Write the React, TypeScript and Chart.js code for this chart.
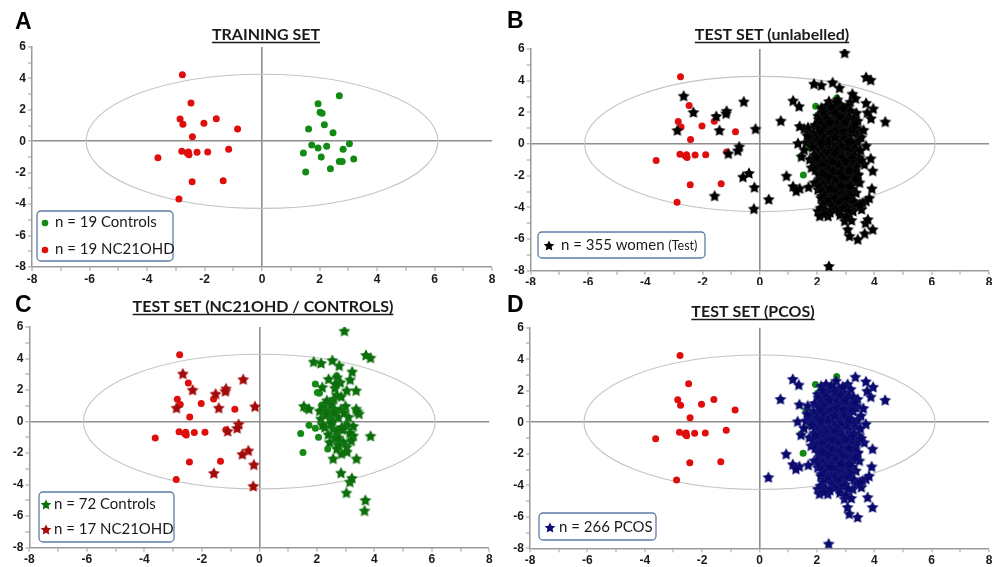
import React, { useEffect, useRef } from 'react';
import { Chart, registerables } from 'chart.js';
Chart.register(...registerables);

// ---------- DATA ----------
const X_MIN = -8, X_MAX = 8, Y_MIN = -8, Y_MAX = 6;
const ELLIPSE_RX = 6.12, ELLIPSE_RY = 4.27;

const trainingNC21OHD: number[][] = [
  [-2.77, 4.24], [-2.47, 2.44], [-2.85, 1.42], [-2.75, 1.08], [-2.02, 1.14], [-1.59, 1.44],
  [-0.85, 0.78], [-2.42, 0.29], [-2.79, -0.64], [-2.56, -0.68], [-2.54, -0.85], [-2.26, -0.70],
  [-1.89, -0.68], [-1.16, -0.51], [-3.62, -1.04], [-2.43, -2.57], [-1.35, -2.51], [-2.89, -3.67],
  [-2.60, -0.75],
];

const trainingControls: number[][] = [
  [2.69, 2.90], [1.95, 2.39], [2.02, 1.84], [2.09, 1.79], [2.17, 1.06], [1.62, 0.78], [2.47, 0.55],
  [3.04, -0.15], [1.73, -0.24], [1.95, -0.43], [2.25, -0.32], [2.82, -0.51], [1.44, -0.75],
  [2.06, -1.0], [3.19, -1.13], [2.69, -1.28], [2.79, -1.28], [2.38, -1.74], [1.52, -1.96],
];

const testNC21OHD: number[][] = [
  [-2.66, 3.05], [-2.32, 2.02], [-2.88, 0.88], [-1.52, 1.77], [-1.16, 2.10], [-1.18, 1.94],
  [-0.56, 2.69], [-1.41, 0.88], [-0.15, 0.97], [-0.72, -0.15], [-0.77, -0.40], [-1.10, -0.59],
  [-0.38, -1.83], [-0.59, -2.06], [-0.19, -2.72], [-1.58, -3.26], [-0.21, -4.08],
];

const testControls: number[][] = [
  [2.96, 5.77], [3.71, 4.23], [3.87, 4.06], [1.89, 3.81], [2.15, 3.72], [2.54, 3.90], [2.78, 3.56],
  [3.23, 3.18], [3.16, 2.67], [2.41, 2.71], [2.71, 2.82], [2.82, 2.50], [2.19, 2.19], [2.63, 2.15],
  [3.04, 1.98], [3.37, 1.98], [2.59, 1.45], [2.69, 1.70], [1.55, 0.99], [1.73, 0.82], [2.23, 0.99],
  [2.34, 0.72], [2.61, 0.82], [2.83, 0.78], [3.37, 0.82], [3.47, 0.51], [3.41, 0.65], [2.14, 0.19],
  [2.46, 0.19], [2.75, 0.29], [3.04, -0.23], [3.27, -0.27], [2.57, -0.44], [2.87, -0.34],
  [2.28, -0.34], [3.87, -0.90], [3.27, -0.88], [2.63, -0.97], [2.92, -1.28], [2.75, -1.50],
  [3.04, -1.60], [2.86, -2.02], [2.57, -2.34], [3.38, -2.34], [2.84, -3.24], [3.15, -3.81],
  [3.22, -3.57], [3.03, -4.50], [3.69, -4.97], [3.66, -5.64],
  [2.30, 0.50], [2.50, 1.10], [2.70, -0.60], [2.40, -0.80], [3.10, 0.30], [2.90, -0.50],
  [2.20, -0.20], [2.60, 0.60], [3.00, 1.00], [2.45, -1.30], [2.75, -1.00], [3.15, -0.70],
  [2.35, 1.35], [2.65, 2.40], [3.20, -1.20], [2.55, 0.05], [2.85, 1.60], [2.10, 0.70],
  [3.05, -1.90], [2.70, -1.70], [2.50, -0.10], [2.95, 0.60],
];

const testPCOS: number[][] = [
  [1.16, 2.75], [1.37, 2.39], [0.73, 1.48], [3.34, 2.89], [3.71, 2.60], [3.96, 2.25], [3.88, 1.63],
  [4.38, 1.42], [1.39, 1.14], [1.68, 1.06], [1.33, 0.06], [1.45, -0.78], [0.93, -2.00], [1.16, -2.66],
  [1.39, -2.79], [1.27, -2.95], [0.31, -3.48], [1.80, -1.47], [2.03, -4.22], [2.09, -4.53],
  [2.38, -4.53], [2.78, -4.22], [3.25, -4.22], [3.77, -4.75], [3.94, -5.38], [2.96, -4.84],
  [3.07, -5.38], [3.13, -5.80], [3.42, -6.01], [2.41, -7.70], [3.71, -3.58], [3.59, -3.69],
  [3.91, -2.80], [3.94, -1.68], [3.65, -1.27], [3.71, -0.10], [3.54, 0.43], [3.36, 0.95],
  [3.42, 1.48], [2.67, 2.64], [3.07, 2.43], [2.32, 2.43], [2.49, 2.21], [2.03, 1.79], [2.09, 1.37],
  [1.62, 0.11], [1.74, -0.95], [1.91, -2.42], [2.03, -2.85], [2.15, -3.27], [2.55, -3.58],
  [2.90, -3.69], [3.13, -3.48], [3.36, -3.06], [3.48, -2.42], [3.42, -1.90],
  [2.15, 2.31], [2.42, 2.05], [2.78, 2.18], [2.95, 1.92], [3.18, 2.12], [2.27, 1.78], [2.58, 1.66],
  [2.86, 1.55], [3.12, 1.71], [2.05, 1.58], [2.38, 1.52], [2.71, 1.88], [3.28, 1.62], [2.51, 2.34],
  [2.90, 2.28], [2.22, 2.02], [3.02, 1.56], [2.64, 1.98], [2.33, 1.64], [2.80, 1.72],
  [1.92, 1.22], [2.18, 1.31], [2.44, 1.19], [2.69, 1.33], [2.93, 1.25], [3.16, 1.12], [3.38, 1.04],
  [2.06, 0.96], [2.31, 0.88], [2.57, 0.97], [2.82, 1.02], [3.05, 0.84], [3.27, 0.72], [1.88, 0.71],
  [2.13, 0.64], [2.39, 0.58], [2.62, 0.71], [2.88, 0.61], [3.11, 0.55], [2.25, 1.09], [2.50, 0.79],
  [2.74, 0.52], [2.98, 1.38], [3.22, 0.94], [1.98, 0.53], [2.44, 1.42], [2.68, 0.91], [2.92, 0.83],
  [3.33, 1.28], [2.15, 0.82],
  [1.76, 0.38], [2.01, 0.29], [2.24, 0.41], [2.47, 0.33], [2.71, 0.26], [2.95, 0.37], [3.19, 0.22],
  [3.41, 0.14], [1.86, 0.02], [2.09, -0.06], [2.33, 0.08], [2.56, -0.03], [2.80, 0.05], [3.03, -0.08],
  [3.27, 0.04], [1.95, -0.31], [2.18, -0.22], [2.41, -0.35], [2.65, -0.18], [2.89, -0.29],
  [3.12, -0.41], [3.35, -0.26], [2.02, -0.47], [2.27, -0.49], [2.52, -0.44], [2.76, -0.46],
  [3.00, -0.21], [1.84, -0.18], [2.38, 0.19], [2.62, 0.46], [2.86, -0.12], [3.09, 0.16], [3.52, -0.38],
  [2.15, 0.15], [2.70, -0.38],
  [1.91, -0.66], [2.14, -0.72], [2.36, -0.61], [2.59, -0.77], [2.83, -0.64], [3.06, -0.79],
  [3.29, -0.68], [3.48, -0.84], [2.02, -0.93], [2.25, -0.98], [2.48, -0.88], [2.72, -1.01],
  [2.95, -0.91], [3.18, -1.04], [3.40, -1.12], [1.88, -1.14], [2.11, -1.22], [2.34, -1.15],
  [2.57, -1.26], [2.81, -1.18], [3.04, -1.31], [3.27, -1.22], [2.00, -1.39], [2.23, -1.44],
  [2.46, -1.36], [2.69, -1.47], [2.92, -1.41], [3.15, -1.49], [3.38, -1.42], [2.62, -0.56],
  [2.40, -1.05], [2.88, -0.82], [3.10, -1.16], [2.18, -1.30], [2.75, -1.28], [3.22, -0.88],
  [1.96, -0.81], [2.53, -1.08], [2.99, -1.06], [3.55, -1.00],
  [1.94, -1.62], [2.17, -1.71], [2.40, -1.58], [2.63, -1.76], [2.86, -1.66], [3.09, -1.79],
  [3.31, -1.68], [2.05, -1.91], [2.28, -1.96], [2.51, -1.87], [2.74, -2.01], [2.97, -1.92],
  [3.20, -2.04], [3.43, -1.95], [2.12, -2.18], [2.35, -2.24], [2.58, -2.15], [2.81, -2.29],
  [3.04, -2.21], [3.27, -2.33], [2.01, -2.41], [2.24, -2.47], [2.47, -2.39], [2.70, -2.49],
  [2.93, -2.43], [3.16, -2.52], [2.55, -1.68], [2.78, -1.84], [3.00, -2.10], [2.38, -2.05],
  [2.66, -2.32], [2.89, -2.06], [3.12, -1.63], [2.20, -1.85], [3.36, -2.18],
  [2.09, -2.68], [2.32, -2.74], [2.55, -2.63], [2.78, -2.79], [3.01, -2.70], [3.24, -2.82],
  [2.19, -2.96], [2.42, -3.03], [2.65, -2.91], [2.88, -3.07], [3.11, -2.98], [2.27, -3.22],
  [2.50, -3.29], [2.73, -3.18], [2.96, -3.33], [3.19, -3.24], [2.40, -3.48], [2.63, -3.41],
  [2.86, -3.52], [3.06, -3.43], [2.14, -3.40], [3.30, -3.62], [2.60, -2.85], [2.84, -2.60],
  [2.46, -2.81], [3.14, -2.64], [2.36, -3.62], [2.72, -3.70], [2.99, -3.92], [2.21, -3.78],
  [2.12, -4.02], [2.30, -4.15], [2.52, -3.95], [2.66, -4.10], [2.90, -4.05], [3.10, -4.20],
  [3.40, -3.90], [2.45, -4.30], [2.80, -4.45], [3.02, -4.60], [3.55, -4.10], [2.25, -4.40],
  [3.20, -4.80], [3.50, -3.80], [3.82, -3.40],
  [1.55, -0.35], [1.65, 0.55], [3.62, 0.90], [3.75, 2.00], [1.70, -2.70],
];

const panelLetters = ['A', 'B', 'C', 'D'];
const panelTitles = ['TRAINING SET', 'TEST SET (unlabelled)', 'TEST SET (NC21OHD / CONTROLS)', 'TEST SET (PCOS)'];
const legendA = ['n = 19 Controls', 'n = 19 NC21OHD'];
const legendB = ['n = 355 women', '(Test)'];
const legendC = ['n = 72 Controls', 'n = 17 NC21OHD'];
const legendD = ['n = 266 PCOS'];

// ---------- STYLE ----------
const RED = '#e00d0d';
const GREEN = '#138a13';
const DARK_RED = '#a30a0a';
const STAR_GREEN = '#0b6e0b';
const NAVY = '#0a0a6e';
const BLACK = '#000000';
const TEXT = '#1a1a1a';
const TICK_FONT = { family: '"Liberation Sans", Arial, sans-serif', size: 12, weight: 'bold' as const };

function toPts(a: number[][]) {
  return a.map(([x, y]) => ({ x, y }));
}

function starPath(ctx: CanvasRenderingContext2D, cx: number, cy: number, r: number, inner = 0.5) {
  ctx.beginPath();
  for (let i = 0; i < 10; i++) {
    const a = -Math.PI / 2 + (i * Math.PI) / 5;
    const rr = i % 2 === 0 ? r : r * inner;
    const px = cx + rr * Math.cos(a);
    const py = cy + rr * Math.sin(a);
    if (i === 0) ctx.moveTo(px, py);
    else ctx.lineTo(px, py);
  }
  ctx.closePath();
}

function makeStar(fill: string, r = 6.3) {
  const s = Math.ceil(r * 2 + 3);
  const c = document.createElement('canvas');
  c.width = s;
  c.height = s;
  const g = c.getContext('2d')!;
  starPath(g, s / 2, s / 2 + 0.6, r, 0.52);
  g.fillStyle = fill;
  g.fill();
  g.lineWidth = 0.4;
  g.strokeStyle = 'rgba(255,255,255,0.15)';
  g.stroke();
  return c;
}

type LegendItem = { shape: 'circle' | 'star'; color: string; text: string; small?: string };
type PanelCfg = {
  idx: number;
  rect: { left: number; top: number; w: number; h: number };
  area: { left: number; right: number; top: number; bottom: number };
  letterPos: [number, number];
  titlePos: [number, number];
  box: { x: number; y: number; w: number; h: number };
  rows: number[];
  markerX: number;
  textX: number;
  items: LegendItem[];
  datasets: (stars: Record<string, HTMLCanvasElement>) => any[];
};

const circleDs = () => [
  { data: toPts(trainingControls), backgroundColor: GREEN, borderWidth: 0, pointRadius: 3.5, pointStyle: 'circle' },
  { data: toPts(trainingNC21OHD), backgroundColor: RED, borderWidth: 0, pointRadius: 3.5, pointStyle: 'circle' },
];

const panels: PanelCfg[] = [
  {
    idx: 0,
    rect: { left: 0, top: 0, w: 497, h: 285 },
    area: { left: 32, right: 492, top: 47, bottom: 267 },
    letterPos: [15, 29],
    titlePos: [266, 35],
    box: { x: 37, y: 211, w: 136, h: 50 },
    rows: [222, 249],
    markerX: 45,
    textX: 55,
    items: [
      { shape: 'circle', color: GREEN, text: legendA[0] },
      { shape: 'circle', color: RED, text: legendA[1] },
    ],
    datasets: () => circleDs(),
  },
  {
    idx: 1,
    rect: { left: 497, top: 0, w: 498, h: 285 },
    area: { left: 33.7, right: 493.7, top: 49, bottom: 270.7 },
    letterPos: [10, 28],
    titlePos: [275, 35],
    box: { x: 41, y: 232, w: 167, h: 26 },
    rows: [245],
    markerX: 52,
    textX: 64,
    items: [{ shape: 'star', color: BLACK, text: legendB[0], small: legendB[1] }],
    datasets: (s) => [
      {
        data: toPts([...testNC21OHD, ...testControls, ...testPCOS]),
        pointStyle: s.black,
        pointRadius: 5,
      },
      ...circleDs(),
    ],
  },
  {
    idx: 2,
    rect: { left: 0, top: 285, w: 497, h: 282 },
    area: { left: 29.3, right: 489.3, top: 42, bottom: 262.7 },
    letterPos: [15, 27],
    titlePos: [263, 22],
    box: { x: 39, y: 207, w: 135, h: 50 },
    rows: [219, 244],
    markerX: 46,
    textX: 54,
    items: [
      { shape: 'star', color: STAR_GREEN, text: legendC[0] },
      { shape: 'star', color: DARK_RED, text: legendC[1] },
    ],
    datasets: (s) => [
      { data: toPts(testControls), pointStyle: s.green, pointRadius: 5 },
      { data: toPts(testNC21OHD), pointStyle: s.darkred, pointRadius: 5 },
      ...circleDs(),
    ],
  },
  {
    idx: 3,
    rect: { left: 497, top: 285, w: 498, h: 282 },
    area: { left: 33, right: 493, top: 42.7, bottom: 263.3 },
    letterPos: [10, 27],
    titlePos: [256, 27],
    box: { x: 42, y: 228, w: 117, h: 27 },
    rows: [242],
    markerX: 53,
    textX: 62,
    items: [{ shape: 'star', color: NAVY, text: legendD[0] }],
    datasets: (s) => [
      { data: toPts(testPCOS), pointStyle: s.navy, pointRadius: 5 },
      ...circleDs(),
    ],
  },
];

function PanelChart({ p }: { p: PanelCfg }) {
  const ref = useRef<HTMLCanvasElement>(null);
  useEffect(() => {
    const stars = {
      black: makeStar(BLACK),
      green: makeStar(STAR_GREEN),
      darkred: makeStar(DARK_RED),
      navy: makeStar(NAVY),
    };
    const decor = {
      id: 'decor' + p.idx,
      beforeDatasetsDraw(chart: any) {
        const { ctx, scales } = chart;
        const xs = scales.x, ys = scales.y;
        const cx = xs.getPixelForValue(0);
        const cy = ys.getPixelForValue(0);
        const rx = xs.getPixelForValue(ELLIPSE_RX) - cx;
        const ry = cy - ys.getPixelForValue(ELLIPSE_RY);
        ctx.save();
        ctx.beginPath();
        ctx.ellipse(cx, cy, rx, ry, 0, 0, Math.PI * 2);
        ctx.strokeStyle = '#c4c4c4';
        ctx.lineWidth = 1.1;
        ctx.stroke();
        ctx.restore();
      },
      afterDraw(chart: any) {
        const { ctx } = chart;
        ctx.save();
        // panel letter
        ctx.fillStyle = '#000';
        ctx.font = 'bold 23px "Liberation Sans", Arial, sans-serif';
        ctx.textAlign = 'left';
        ctx.textBaseline = 'alphabetic';
        ctx.fillText(panelLetters[p.idx], p.letterPos[0], p.letterPos[1]);
        // title
        ctx.font = 'bold 16px Lato, "Open Sans", sans-serif';
        ctx.textAlign = 'center';
        ctx.textBaseline = 'middle';
        ctx.fillStyle = TEXT;
        const t = panelTitles[p.idx];
        ctx.fillText(t, p.titlePos[0], p.titlePos[1]);
        const tw = ctx.measureText(t).width;
        ctx.beginPath();
        ctx.moveTo(p.titlePos[0] - tw / 2, p.titlePos[1] + 7.5);
        ctx.lineTo(p.titlePos[0] + tw / 2, p.titlePos[1] + 7.5);
        ctx.lineWidth = 1.4;
        ctx.strokeStyle = TEXT;
        ctx.stroke();
        // legend box
        const b = p.box;
        ctx.beginPath();
        ctx.roundRect(b.x, b.y, b.w, b.h, 4);
        ctx.fillStyle = '#ffffff';
        ctx.fill();
        ctx.lineWidth = 1.3;
        ctx.strokeStyle = '#5d7ca6';
        ctx.stroke();
        p.items.forEach((it, i) => {
          const y = p.rows[i];
          ctx.fillStyle = it.color;
          if (it.shape === 'circle') {
            ctx.beginPath();
            ctx.arc(p.markerX, y + 1, 3.3, 0, Math.PI * 2);
            ctx.fill();
          } else {
            starPath(ctx, p.markerX, y + 1, 5.6, 0.48);
            ctx.fill();
          }
          ctx.fillStyle = TEXT;
          ctx.font = '15px Lato, "Open Sans", sans-serif';
          ctx.textAlign = 'left';
          ctx.textBaseline = 'middle';
          ctx.fillText(it.text, p.textX, y);
          if (it.small) {
            const w = ctx.measureText(it.text + ' ').width;
            ctx.font = '12.5px Lato, "Open Sans", sans-serif';
            ctx.fillText(it.small, p.textX + w, y + 1);
          }
        });
        ctx.restore();
      },
    };
    const gridCfg = {
      drawOnChartArea: true,
      drawTicks: true,
      tickLength: 4,
      tickWidth: 1,
      tickColor: '#9a9a9a',
      color: (c: any) => (c.tick && c.tick.value === 0 ? '#8e8e8e' : 'rgba(0,0,0,0)'),
      lineWidth: (c: any) => (c.tick && c.tick.value === 0 ? 1.6 : 0),
    };
    const tickCb = (v: any) => (Number(v) % 2 === 0 ? String(v) : '');
    const chart = new Chart(ref.current!, {
      type: 'scatter',
      data: { datasets: p.datasets(stars) },
      plugins: [decor],
      options: {
        animation: false,
        responsive: false,
        events: [],
        layout: {
          padding: { left: 0, top: p.area.top, right: p.rect.w - p.area.right, bottom: 0 },
        },
        plugins: { legend: { display: false }, tooltip: { enabled: false }, title: { display: false } },
        scales: {
          x: {
            type: 'linear',
            min: X_MIN,
            max: X_MAX,
            afterFit: (s: any) => {
              s.height = p.rect.h - p.area.bottom;
            },
            border: { display: true, color: '#9a9a9a', width: 1.5 },
            grid: gridCfg,
            ticks: { stepSize: 1, autoSkip: false, maxRotation: 0, padding: 1, color: TEXT, font: TICK_FONT, callback: tickCb },
          },
          y: {
            type: 'linear',
            min: Y_MIN,
            max: Y_MAX,
            afterFit: (s: any) => {
              s.width = p.area.left;
            },
            border: { display: true, color: '#9a9a9a', width: 1.5 },
            grid: gridCfg,
            ticks: { stepSize: 1, autoSkip: false, padding: 2, color: TEXT, font: TICK_FONT, callback: tickCb },
          },
        },
      } as any,
    });
    return () => chart.destroy();
  }, [p]);
  return (
    <div style={{ position: 'absolute', left: p.rect.left, top: p.rect.top, width: p.rect.w, height: p.rect.h }}>
      <canvas ref={ref} width={p.rect.w} height={p.rect.h} style={{ width: p.rect.w, height: p.rect.h, display: 'block' }} />
    </div>
  );
}

export default function App() {
  return (
    <div style={{ position: 'fixed', left: 0, top: 0, width: 995, height: 567, background: '#ffffff', overflow: 'hidden' }}>
      {panels.map((p) => (
        <PanelChart key={p.idx} p={p} />
      ))}
    </div>
  );
}
